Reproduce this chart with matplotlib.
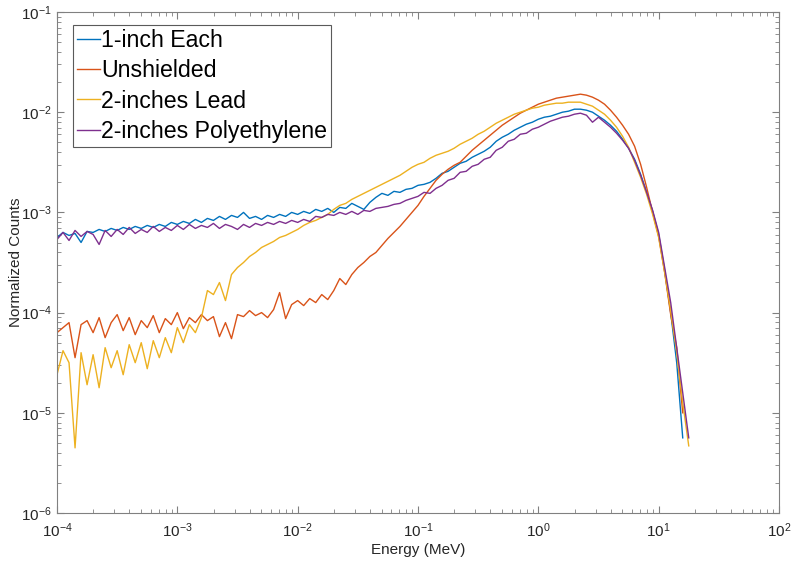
import numpy as np
import matplotlib
matplotlib.use("Agg")
import matplotlib.pyplot as plt

plt.rcParams['font.family'] = ['Liberation Sans', 'DejaVu Sans']

# energy bins, log10(MeV)
log_energy = [-4.00, -3.95, -3.90, -3.85, -3.80, -3.75, -3.70, -3.65, -3.60, -3.55,
              -3.50, -3.45, -3.40, -3.35, -3.30, -3.25, -3.20, -3.15, -3.10, -3.05,
              -3.00, -2.95, -2.90, -2.85, -2.80, -2.75, -2.70, -2.65, -2.60, -2.55,
              -2.50, -2.45, -2.40, -2.35, -2.30, -2.25, -2.20, -2.15, -2.10, -2.05,
              -2.00, -1.95, -1.90, -1.85, -1.80, -1.75, -1.70, -1.65, -1.60, -1.55,
              -1.50, -1.45, -1.40, -1.35, -1.30, -1.25, -1.20, -1.15, -1.10, -1.05,
              -1.00, -0.95, -0.90, -0.85, -0.80, -0.75, -0.70, -0.65, -0.60, -0.55,
              -0.50, -0.45, -0.40, -0.35, -0.30, -0.25, -0.20, -0.15, -0.10, -0.05,
              0.00, 0.05, 0.10, 0.15, 0.20, 0.25, 0.30, 0.35, 0.40, 0.45,
              0.50, 0.55, 0.60, 0.65, 0.70, 0.75, 0.80, 0.85, 0.90, 0.95,
              1.00, 1.05, 1.10, 1.15, 1.20, 1.25]

# log10 of normalized counts
each = [-3.25, -3.20, -3.23, -3.21, -3.30, -3.19, -3.20, -3.17, -3.19, -3.16,
        -3.18, -3.15, -3.17, -3.14, -3.16, -3.13, -3.15, -3.12, -3.14, -3.10,
        -3.12, -3.09, -3.11, -3.07, -3.10, -3.06, -3.08, -3.04, -3.07, -3.03,
        -3.05, -3.00, -3.06, -3.04, -3.07, -3.03, -3.05, -3.02, -3.04, -3.00,
        -3.02, -2.99, -3.01, -2.97, -2.99, -2.96, -3.00, -2.95, -2.96, -2.91,
        -2.94, -2.97, -2.90, -2.85, -2.81, -2.83, -2.79, -2.80, -2.77, -2.76,
        -2.73, -2.72, -2.70, -2.66, -2.61, -2.59, -2.55, -2.51, -2.49, -2.45,
        -2.42, -2.39, -2.35, -2.29, -2.25, -2.22, -2.18, -2.15, -2.12, -2.10,
        -2.07, -2.05, -2.04, -2.02, -2.00, -1.99, -1.97, -1.97, -1.98, -2.00,
        -2.04, -2.08, -2.13, -2.19, -2.27, -2.36, -2.47, -2.62, -2.80, -2.99,
        -3.22, -3.58, -4.00, -4.50, -5.25, np.nan]

unshielded = [-4.20, -4.15, -4.10, -4.45, -4.12, -4.08, -4.20, -4.05, -4.25, -4.10,
              -4.02, -4.18, -4.05, -4.22, -4.08, -4.15, -4.03, -4.20, -4.06, -4.12,
              -4.00, -4.16, -4.05, -4.10, -4.02, -4.08, -4.04, -4.24, -4.10, -4.26,
              -4.02, -4.04, -3.98, -4.03, -4.00, -4.05, -3.97, -3.80, -4.06, -3.92,
              -3.88, -3.93, -3.86, -3.90, -3.82, -3.87, -3.78, -3.66, -3.72, -3.62,
              -3.55, -3.50, -3.44, -3.40, -3.33, -3.26, -3.20, -3.14, -3.07, -3.00,
              -2.93, -2.84, -2.76, -2.68, -2.62, -2.57, -2.53, -2.50, -2.44, -2.38,
              -2.33, -2.28, -2.23, -2.18, -2.13, -2.09, -2.05, -2.01, -1.98, -1.95,
              -1.92, -1.90, -1.88, -1.86, -1.85, -1.84, -1.83, -1.82, -1.83, -1.85,
              -1.88, -1.92, -1.98, -2.05, -2.13, -2.22, -2.34, -2.52, -2.75, -3.00,
              -3.24, -3.60, -4.02, -4.35, -5.00, np.nan]

lead = [-4.62, -4.38, -4.50, -5.35, -4.40, -4.72, -4.42, -4.75, -4.35, -4.55,
        -4.38, -4.62, -4.32, -4.50, -4.30, -4.56, -4.28, -4.45, -4.25, -4.40,
        -4.15, -4.30, -4.12, -4.20, -4.05, -3.78, -3.82, -3.70, -3.88, -3.62,
        -3.55, -3.50, -3.44, -3.40, -3.35, -3.32, -3.29, -3.25, -3.23, -3.20,
        -3.17, -3.13, -3.10, -3.08, -3.05, -3.02, -2.97, -2.93, -2.91, -2.87,
        -2.84, -2.81, -2.78, -2.75, -2.72, -2.69, -2.66, -2.63, -2.59, -2.55,
        -2.52, -2.50, -2.46, -2.43, -2.41, -2.39, -2.36, -2.32, -2.29, -2.26,
        -2.22, -2.19, -2.15, -2.11, -2.08, -2.05, -2.02, -2.00, -1.98, -1.96,
        -1.95, -1.93, -1.92, -1.91, -1.91, -1.90, -1.90, -1.90, -1.92, -1.94,
        -1.98, -2.02, -2.08, -2.15, -2.24, -2.35, -2.50, -2.65, -2.82, -3.02,
        -3.25, -3.60, -3.98, -4.40, -4.90, -5.33]

poly = [-3.27, -3.20, -3.28, -3.18, -3.24, -3.19, -3.22, -3.32, -3.18, -3.24,
        -3.17, -3.22, -3.15, -3.21, -3.17, -3.20, -3.14, -3.19, -3.15, -3.18,
        -3.13, -3.17, -3.12, -3.16, -3.13, -3.15, -3.11, -3.16, -3.12, -3.14,
        -3.17, -3.12, -3.15, -3.11, -3.13, -3.10, -3.12, -3.09, -3.11, -3.08,
        -3.10, -3.07, -3.09, -3.04, -3.05, -3.02, -3.03, -3.00, -3.02, -2.99,
        -3.02, -2.98, -2.99, -2.96, -2.95, -2.94, -2.92, -2.91, -2.88, -2.86,
        -2.84, -2.80, -2.81, -2.76, -2.73, -2.68, -2.66, -2.60, -2.59, -2.54,
        -2.52, -2.47, -2.45, -2.38, -2.35, -2.29, -2.27, -2.22, -2.21, -2.17,
        -2.15, -2.12, -2.09, -2.07, -2.05, -2.04, -2.02, -2.01, -2.03, -2.10,
        -2.05, -2.10, -2.15, -2.21, -2.28, -2.36, -2.48, -2.63, -2.80, -2.98,
        -3.20, -3.55, -3.90, -4.35, -4.80, -5.25]

labels = ['1-inch Each', 'Unshielded', '2-inches Lead', '2-inches Polyethylene']
colors = ['#0072BD', '#D95319', '#EDB120', '#7E2F8E']

fig = plt.figure(figsize=(7.91, 5.65), dpi=100)
ax = fig.add_axes([57 / 791, 1 - 513 / 565, (779 - 57) / 791, (513 - 12) / 565])

energy = 10 ** np.array(log_energy)
for series, lab, col in zip([each, unshielded, lead, poly], labels, colors):
    ax.plot(energy, 10 ** np.array(series), color=col, lw=1.0, label=lab)

ax.set_xscale('log')
ax.set_yscale('log')
ax.set_xlim(1e-4, 1e2)
ax.set_ylim(1e-6, 1e-1)

axis_col = '#262626'
for s in ax.spines.values():
    s.set_color('#808080')
    s.set_linewidth(0.8)
ax.tick_params(which='both', direction='in', top=True, right=True,
               colors='#808080', labelcolor=axis_col, labelsize=11)
ax.tick_params(which='major', length=5)
ax.tick_params(which='minor', length=3)
ax.tick_params(axis='x', pad=6)

ax.set_xlabel('Energy (MeV)', fontsize=11, color=axis_col, labelpad=2)
ax.set_ylabel('Normalized Counts', fontsize=11, color=axis_col)
ax.yaxis.set_label_coords(-0.047, 0.5)

leg = ax.legend(loc='upper left', bbox_to_anchor=(0.022, 0.974), fontsize=16.7,
                fancybox=False, edgecolor='#5a5a5a', framealpha=1,
                handlelength=1.0, handletextpad=0.05, labelspacing=0.32,
                borderpad=0.16, borderaxespad=0.0)
leg.get_frame().set_linewidth(0.8)

fig.savefig('out.png', dpi=100)
